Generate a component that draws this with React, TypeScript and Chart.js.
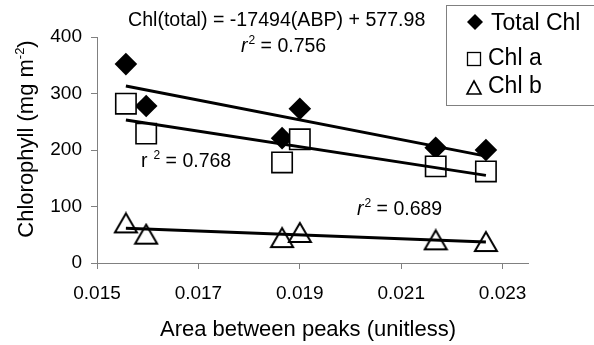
import React, { useEffect, useRef } from "react";
import { Chart, registerables } from "chart.js";

Chart.register(...registerables);

// ---- data ----
const abp = [0.01557, 0.01597, 0.01865, 0.019, 0.02168, 0.02267];
const totalChl = [352, 278, 221, 273, 204, 200];
const chlA = [282, 229, 178, 219, 171, 162];
const chlB = [71, 51, 45, 54, 41, 38];
const xTicks = [0.015, 0.017, 0.019, 0.021, 0.023];
const yTicks = [0, 100, 200, 300, 400];
const seriesNames = ["Total Chl", "Chl a", "Chl b"];
const equationText = "Chl(total) = -17494(ABP) + 577.98";
const r2Total = "0.756";
const r2A = "0.768";
const r2B = "0.689";
const xTitle = "Area between peaks (unitless)";

const FAM = '"Liberation Sans", Arial, Helvetica, sans-serif';

function pts(xs: number[], ys: number[]) {
  return xs.map((x, i) => ({ x, y: ys[i] }));
}

function trend(xs: number[], ys: number[]) {
  const n = xs.length;
  const mx = xs.reduce((a, b) => a + b, 0) / n;
  const my = ys.reduce((a, b) => a + b, 0) / n;
  let sxy = 0;
  let sxx = 0;
  for (let i = 0; i < n; i++) {
    sxy += (xs[i] - mx) * (ys[i] - my);
    sxx += (xs[i] - mx) * (xs[i] - mx);
  }
  const m = sxy / sxx;
  const b = my - m * mx;
  const x0 = Math.min(...xs);
  const x1 = Math.max(...xs);
  return [
    { x: x0, y: m * x0 + b },
    { x: x1, y: m * x1 + b },
  ];
}

function makeTriangle(w: number, h: number, lw: number) {
  const c = document.createElement("canvas");
  c.width = w + lw * 2;
  c.height = h + lw * 2;
  const g = c.getContext("2d")!;
  g.beginPath();
  g.moveTo(c.width / 2, lw);
  g.lineTo(c.width - lw, lw + h);
  g.lineTo(lw, lw + h);
  g.closePath();
  g.fillStyle = "#fff";
  g.fill();
  g.lineWidth = lw;
  g.lineJoin = "miter";
  g.strokeStyle = "#000";
  g.stroke();
  return c;
}

function drawR2(
  ctx: CanvasRenderingContext2D,
  x: number,
  baseline: number,
  italic: boolean,
  gap: number,
  value: string
) {
  ctx.textAlign = "left";
  ctx.textBaseline = "alphabetic";
  ctx.font = `${italic ? "italic " : ""}19.5px ${FAM}`;
  ctx.fillText("r", x, baseline);
  let cx = x + ctx.measureText("r").width + gap;
  ctx.font = `12px ${FAM}`;
  ctx.fillText("2", cx, baseline - 8);
  cx += ctx.measureText("2").width;
  ctx.font = `19.5px ${FAM}`;
  ctx.fillText(" = " + value, cx, baseline);
}

const decorPlugin = {
  id: "decor",
  afterDraw(chart: any) {
    const ctx: CanvasRenderingContext2D = chart.ctx;
    ctx.save();
    ctx.fillStyle = "#000";

    // equation and r2 labels
    ctx.font = `19.6px ${FAM}`;
    ctx.textAlign = "left";
    ctx.textBaseline = "alphabetic";
    ctx.fillText(equationText, 128, 26);
    drawR2(ctx, 241, 52, true, 1, r2Total);
    drawR2(ctx, 141, 167, false, 6, r2A);
    drawR2(ctx, 357, 215, true, 1, r2B);

    // x axis title
    ctx.font = `22px ${FAM}`;
    ctx.textAlign = "center";
    ctx.fillText(xTitle, 308, 336);

    // y axis title (rotated, with superscript)
    ctx.save();
    ctx.translate(33, 139);
    ctx.rotate(-Math.PI / 2);
    const main = "Chlorophyll (mg m";
    const sup = "-2";
    const close = ")";
    ctx.font = `22px ${FAM}`;
    const wMain = ctx.measureText(main).width;
    const wClose = ctx.measureText(close).width;
    ctx.font = `13px ${FAM}`;
    const wSup = ctx.measureText(sup).width;
    const total = wMain + wSup + wClose;
    let px = -total / 2;
    ctx.textAlign = "left";
    ctx.font = `22px ${FAM}`;
    ctx.fillText(main, px, 0);
    px += wMain;
    ctx.font = `13px ${FAM}`;
    ctx.fillText(sup, px, -9);
    px += wSup;
    ctx.font = `22px ${FAM}`;
    ctx.fillText(close, px, 0);
    ctx.restore();

    // legend
    ctx.strokeStyle = "#808080";
    ctx.lineWidth = 1;
    ctx.strokeRect(446.5, 5.5, 200, 100);
    ctx.font = `23px ${FAM}`;
    ctx.textAlign = "left";
    ctx.fillStyle = "#000";
    // diamond
    ctx.beginPath();
    ctx.moveTo(475, 14);
    ctx.lineTo(483, 22);
    ctx.lineTo(475, 30);
    ctx.lineTo(467, 22);
    ctx.closePath();
    ctx.fill();
    ctx.fillText(seriesNames[0], 491, 30);
    // square
    ctx.fillStyle = "#fff";
    ctx.fillRect(467.5, 52.5, 13, 13);
    ctx.strokeStyle = "#000";
    ctx.lineWidth = 1.3;
    ctx.strokeRect(467.5, 52.5, 13, 13);
    ctx.fillStyle = "#000";
    ctx.fillText(seriesNames[1], 488, 65);
    // triangle
    ctx.beginPath();
    ctx.moveTo(474, 81);
    ctx.lineTo(481, 94);
    ctx.lineTo(467, 94);
    ctx.closePath();
    ctx.lineWidth = 1.6;
    ctx.stroke();
    ctx.fillText(seriesNames[2], 488, 93);

    ctx.restore();
  },
};

export default function App() {
  const ref = useRef<HTMLCanvasElement>(null);

  useEffect(() => {
    if (!ref.current) return;
    const tri = makeTriangle(22, 19, 2);
    const lineStyle = {
      type: "line" as const,
      borderColor: "#000",
      borderWidth: 3,
      pointRadius: 0,
      showLine: true,
      fill: false,
      order: 0,
    };
    const chart = new Chart(ref.current, {
      type: "scatter",
      data: {
        datasets: [
          {
            label: seriesNames[0],
            data: pts(abp, totalChl),
            pointStyle: "rectRot",
            pointRadius: 11.3,
            backgroundColor: "#000",
            borderColor: "#000",
            borderWidth: 0,
            order: 3,
          },
          {
            label: seriesNames[1],
            data: pts(abp, chlA),
            pointStyle: "rect",
            pointRadius: 14.4,
            backgroundColor: "#fff",
            borderColor: "#000",
            borderWidth: 1.6,
            order: 2,
          },
          {
            label: seriesNames[2],
            data: pts(abp, chlB),
            pointStyle: tri as any,
            pointRadius: 11,
            order: 1,
          },
          { ...lineStyle, label: "trend total", data: trend(abp, totalChl) },
          { ...lineStyle, label: "trend a", data: trend(abp, chlA) },
          { ...lineStyle, label: "trend b", data: trend(abp, chlB) },
        ] as any,
      },
      options: {
        animation: false,
        responsive: false,
        maintainAspectRatio: false,
        layout: { padding: { left: 0, top: 37, right: 66, bottom: 0 } },
        plugins: {
          legend: { display: false },
          tooltip: { enabled: false },
        },
        scales: {
          x: {
            type: "linear",
            min: 0.015,
            max: 0.0235,
            afterBuildTicks: (s: any) => {
              s.ticks = xTicks.map((v) => ({ value: v }));
            },
            afterFit: (s: any) => {
              s.height = 82;
            },
            ticks: {
              color: "#000",
              font: { family: FAM, size: 19 },
              padding: 13,
              maxRotation: 0,
              callback: (v: any) => Number(v).toFixed(3),
            },
            grid: {
              drawOnChartArea: false,
              drawTicks: true,
              tickLength: 6,
              color: "#808080",
            },
            border: { display: true, color: "#808080", width: 1 },
          },
          y: {
            type: "linear",
            min: 0,
            max: 400,
            afterBuildTicks: (s: any) => {
              s.ticks = yTicks.map((v) => ({ value: v }));
            },
            afterFit: (s: any) => {
              s.width = 97;
            },
            ticks: {
              color: "#000",
              font: { family: FAM, size: 19 },
              padding: 9,
              callback: (v: any) => String(v),
            },
            grid: {
              drawOnChartArea: false,
              drawTicks: true,
              tickLength: 6,
              color: "#808080",
            },
            border: { display: true, color: "#808080", width: 1 },
          },
        },
      } as any,
      plugins: [decorPlugin],
    });
    return () => chart.destroy();
  }, []);

  return (
    <div
      style={{
        position: "fixed",
        left: 0,
        top: 0,
        width: 594,
        height: 345,
        background: "#fff",
      }}
    >
      <canvas ref={ref} width={594} height={345} style={{ display: "block" }} />
    </div>
  );
}
